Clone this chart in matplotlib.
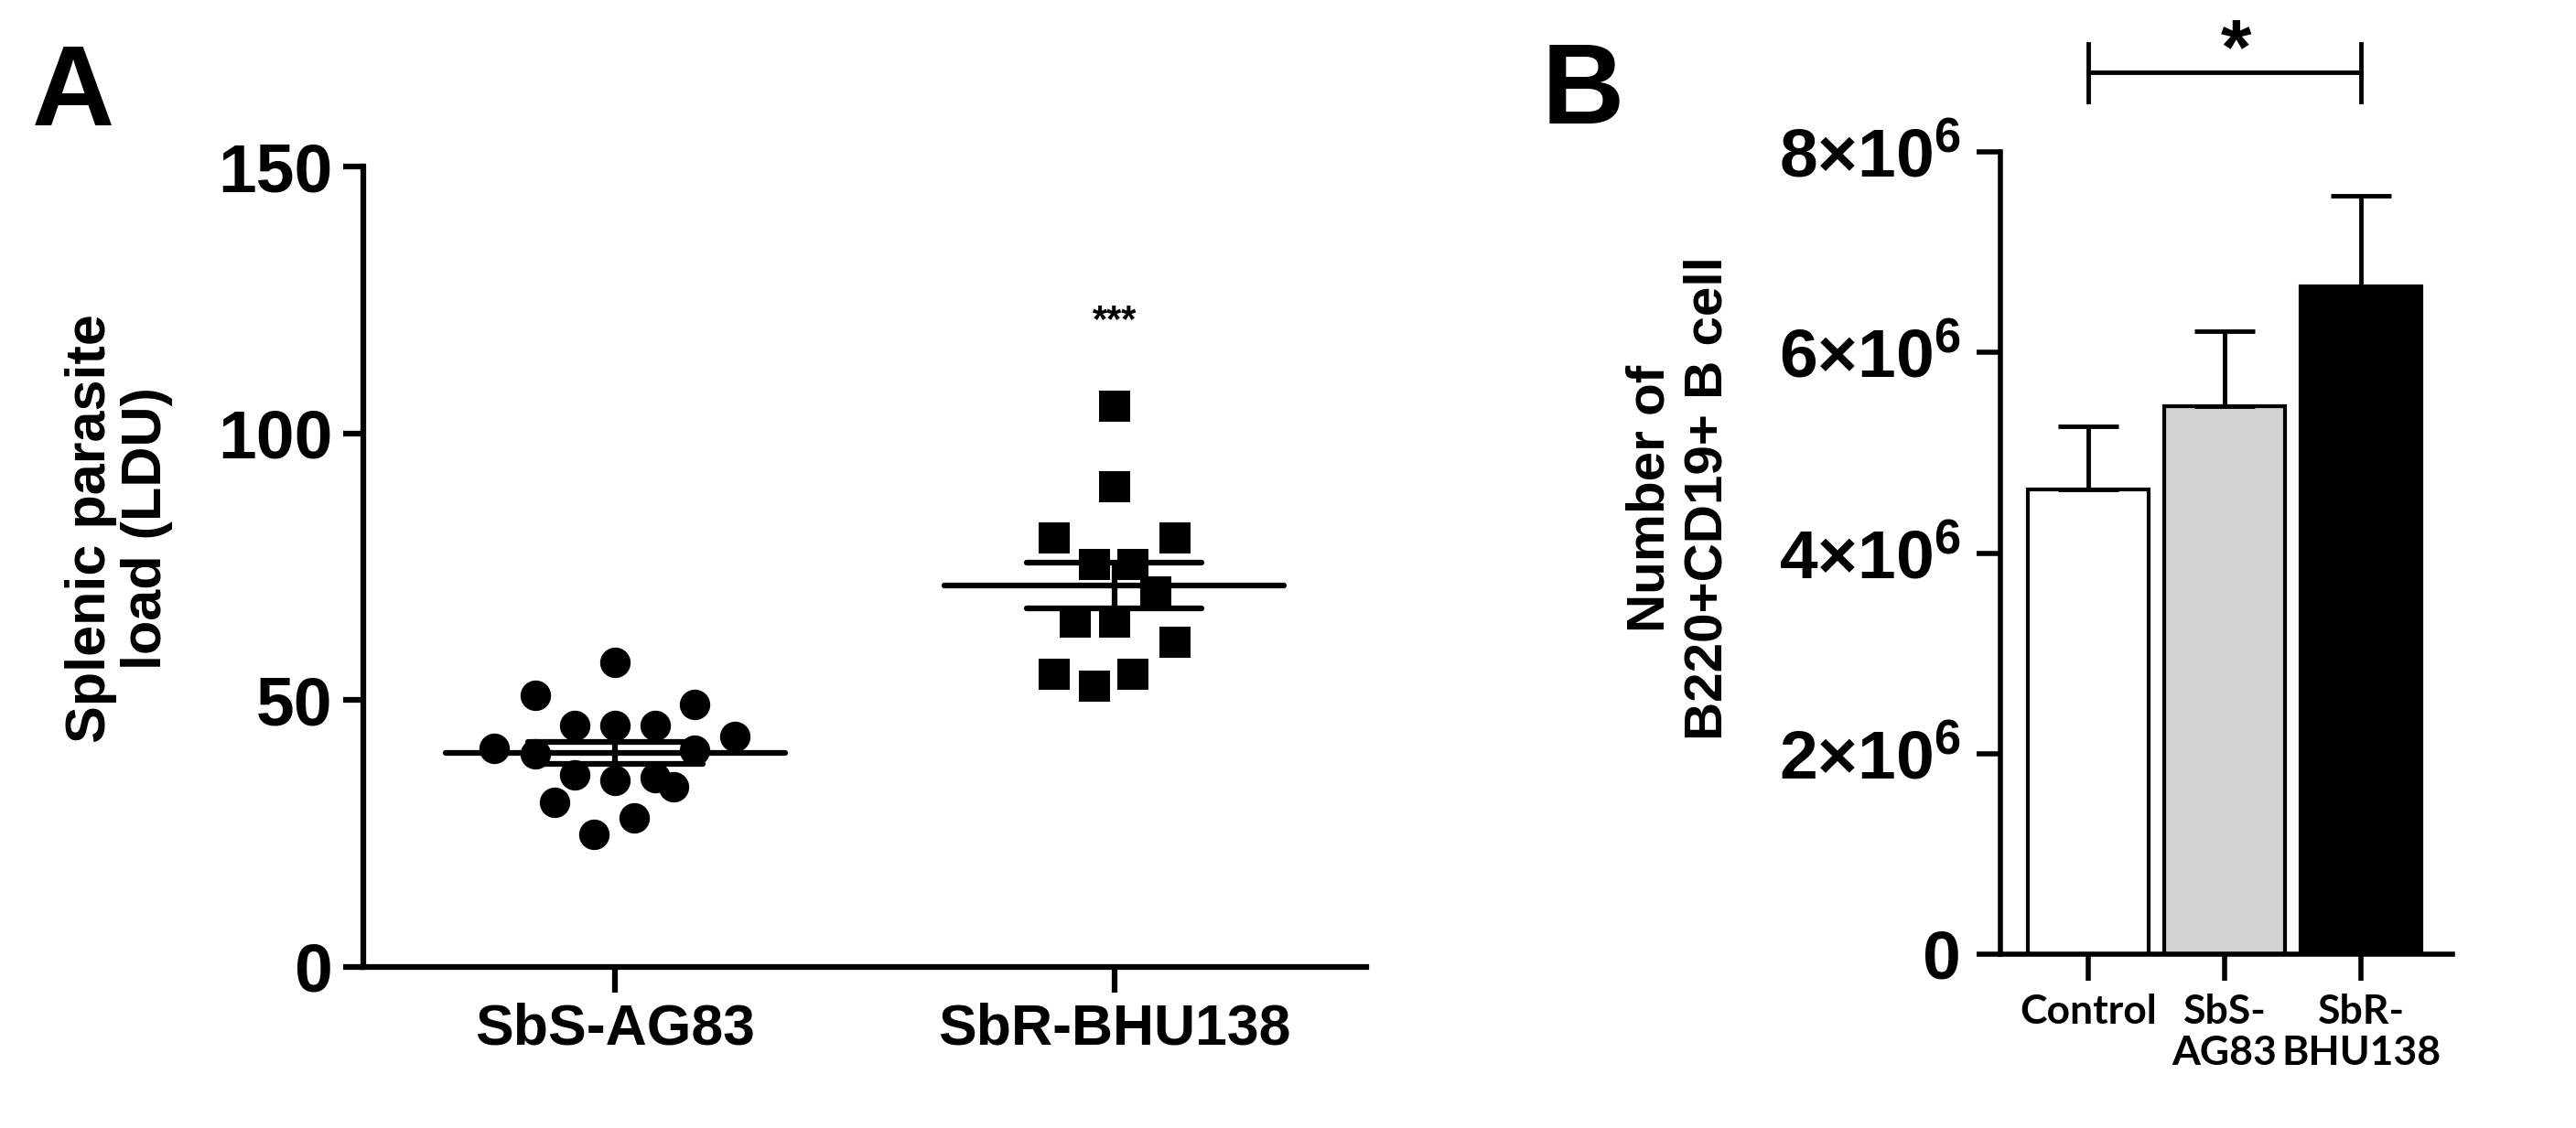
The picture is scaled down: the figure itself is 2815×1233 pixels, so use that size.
import numpy as np
import matplotlib
matplotlib.use('Agg')
import matplotlib.pyplot as plt

plt.rcParams['font.family'] = ['Liberation Sans', 'DejaVu Sans']
plt.rcParams['mathtext.fontset'] = 'custom'
plt.rcParams['mathtext.rm'] = 'Liberation Sans:bold'
plt.rcParams['mathtext.default'] = 'rm'

# panel A: splenic parasite load (LDU)
groups_a = ['SbS-AG83', 'SbR-BHU138']
load_sbs = [57.1, 50.9, 49.2, 45.3, 45.3, 45.3, 43.2, 41.0, 40.0, 40.6,
            36.0, 35.0, 35.5, 33.8, 30.9, 28.0, 24.9]
jitter_sbs = [0, -0.161, 0.159, -0.082, 0, 0.080, 0.240, -0.243, -0.161, 0.159,
              -0.082, 0, 0.080, 0.117, -0.121, 0.038, -0.042]
load_sbr = [105.0, 90.0, 80.4, 80.4, 75.4, 75.4, 70.3, 64.6, 64.6, 60.9,
            54.9, 54.9, 52.6]
jitter_sbr = [0, 0, -0.121, 0.122, -0.040, 0.038, 0.084, -0.079, 0, 0.122,
              -0.121, 0.038, -0.040]
yticks_a = [0, 50, 100, 150]

# panel B: B220+CD19+ B cells
groups_b = ['Control', 'SbS-\nAG83', 'SbR-\nBHU138']
cells_mean = [4.63e6, 5.46e6, 6.66e6]
cells_sem = [0.63e6, 0.75e6, 0.90e6]
bar_colors = ['white', '#d2d2d2', 'black']
yticks_b = [0, 2e6, 4e6, 6e6, 8e6]
yticklabels_b = ['0', r'$2{\times}10^{6}$', r'$4{\times}10^{6}$',
                 r'$6{\times}10^{6}$', r'$8{\times}10^{6}$']

W, H = 2815, 1233
fig = plt.figure(figsize=(W / 100, H / 100), dpi=100)

# ---------------- panel A
axA = fig.add_axes([397 / W, 1 - 1057 / H, 1096 / W, 875 / H])
for i, (vals, jit, mk) in enumerate([(load_sbs, jitter_sbs, 'o'), (load_sbr, jitter_sbr, 's')]):
    x = i + np.array(jit)
    axA.plot(x, vals, linestyle='none', marker=mk, color='black', ms=24, mew=0)
    m = np.mean(vals)
    sem = np.std(vals, ddof=1) / np.sqrt(len(vals))
    axA.hlines(m, i - 0.34, i + 0.34, color='black', lw=4.5, capstyle='round')
    axA.hlines([m - sem, m + sem], i - 0.175, i + 0.175, color='black', lw=4.5, capstyle='round')
    axA.vlines(i, m - sem, m + sem, color='black', lw=4.5)

axA.text(1, 121, '***', ha='center', va='center', fontsize=30, fontweight='bold')
axA.set_xlim(-0.505, 1.505)
axA.set_ylim(0, 150)
axA.set_yticks(yticks_a)
axA.set_yticklabels([str(t) for t in yticks_a], fontweight='bold', fontsize=54)
axA.set_xticks([0, 1])
axA.set_xticklabels(groups_a, fontweight='bold', fontsize=45)
axA.tick_params(axis='y', width=4.5, length=16, pad=8)
axA.tick_params(axis='x', width=4.5, length=20, pad=8)
for s in ['top', 'right']:
    axA.spines[s].set_visible(False)
for s in ['left', 'bottom']:
    axA.spines[s].set_linewidth(4.5)

fig.text(130 / W, 1 - 578 / H, 'Splenic parasite\nload (LDU)', rotation=90,
         ha='center', va='center', fontsize=44, fontweight='bold', linespacing=1.1)
fig.text(80 / W, 1 - 105 / H, 'A', ha='center', va='center', fontsize=90, fontweight='bold')

# ---------------- panel B
axB = fig.add_axes([2186 / W, 1 - 1043 / H, 494 / W, 877 / H])
xb = np.arange(len(groups_b))
axB.bar(xb, cells_mean, width=0.89, color=bar_colors, edgecolor='black', linewidth=3)
axB.errorbar(xb, cells_mean, yerr=[np.zeros(len(cells_sem)), cells_sem], fmt='none',
             ecolor='black', elinewidth=3.5, capsize=24, capthick=3.5)
axB.set_xlim(-0.645, 2.67)
axB.set_ylim(0, 8e6)
axB.set_yticks(yticks_b)
axB.set_yticklabels(yticklabels_b, fontweight='bold')
axB.set_xticks(xb)
axB.set_xticklabels(groups_b, family=['Lato', 'DejaVu Sans'], fontweight='bold',
                    fontsize=32, linespacing=1.15)
axB.tick_params(axis='y', labelsize=54, width=4, length=19, pad=12)
axB.tick_params(axis='x', width=4, length=21, pad=10)
for s in ['top', 'right']:
    axB.spines[s].set_visible(False)
for s in ['left', 'bottom']:
    axB.spines[s].set_linewidth(4)

# significance bracket
yb = 8.79e6
axB.plot([0, 2], [yb, yb], color='black', lw=3.5, clip_on=False)
axB.plot([0, 0], [8.5e6, 9.08e6], color='black', lw=3.5, clip_on=False)
axB.plot([2, 2], [8.5e6, 9.08e6], color='black', lw=3.5, clip_on=False)
axB.text(1.08, 8.78e6, '*', ha='center', va='baseline', fontsize=62, fontweight='bold',
         clip_on=False)

fig.text(1835 / W, 1 - 545 / H, 'Number of\nB220+CD19+ B cell', rotation=90,
         ha='center', va='center', fontsize=42, fontweight='bold', linespacing=1.2)
fig.text(1730 / W, 1 - 103 / H, 'B', ha='center', va='center', fontsize=90, fontweight='bold')

fig.savefig('out.png', dpi=100, facecolor='white')
